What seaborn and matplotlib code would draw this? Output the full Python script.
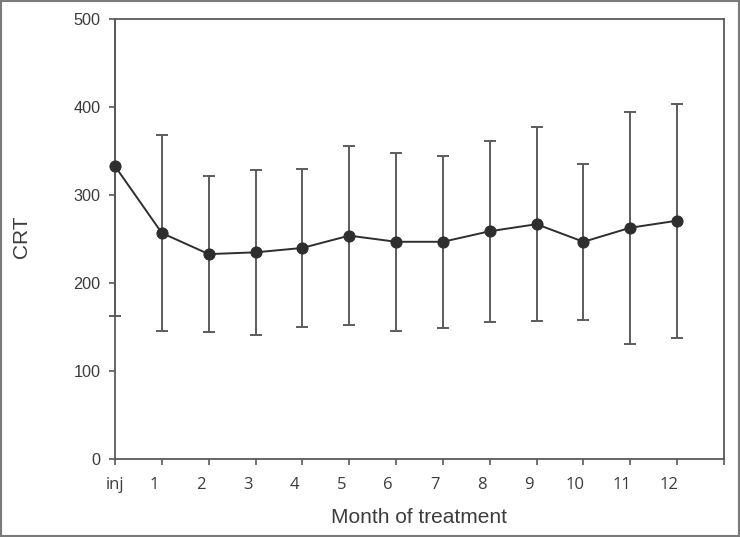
import matplotlib
matplotlib.use("Agg")
import matplotlib.pyplot as plt
import matplotlib.transforms as mtransforms
from matplotlib.patches import Rectangle
from matplotlib.ticker import FixedLocator, FixedFormatter, NullFormatter
import seaborn as sns
import pandas as pd
import numpy as np

# ---- data ----
month_labels = ["inj", "1", "2", "3", "4", "5", "6", "7", "8", "9", "10", "11", "12"]
month_index = [0, 1, 2, 3, 4, 5, 6, 7, 8, 9, 10, 11, 12]
crt_mean = [333, 257, 233, 235, 240, 254, 247, 247, 259, 267, 247, 263, 271]
crt_sd = [170, 111, 89, 94, 90, 102, 101, 98, 103, 110, 89, 132, 133]

df = pd.DataFrame({"month": month_index, "crt": crt_mean, "sd": crt_sd})

sns.set_style("ticks")
plt.rcParams["font.family"] = ["Liberation Sans", "DejaVu Sans"]

fig = plt.figure(figsize=(7.40, 5.37), dpi=100)
ax = fig.add_axes([0.1554, 0.1453, 0.8230, 0.8187])

line_col = "#2e2e2e"
err_col = "#5c5c5c"
spine_col = "#5a5a5a"
text_col = "#3c3c3c"

# error bars
eb = ax.errorbar(df["month"], df["crt"], yerr=df["sd"], fmt="none",
                 ecolor=err_col, elinewidth=1.4, capsize=4.6, capthick=1.4, zorder=2)
clip_bbox = mtransforms.TransformedBbox(mtransforms.Bbox([[-0.02, 0.0], [1.02, 1.0]]), ax.transAxes)
for art in eb.lines[1] + eb.lines[2]:
    art.set_clip_box(clip_bbox)

# line + markers
sns.lineplot(data=df, x="month", y="crt", ax=ax, color=line_col, linewidth=1.4,
             marker="o", markersize=8.0, markeredgecolor=line_col,
             markerfacecolor=line_col, zorder=3, clip_on=False)

ax.set_xlim(0, 13)
ax.set_ylim(0, 500)
ax.set_yticks([0, 100, 200, 300, 400, 500])

# major x ticks: marks only; minor x ticks: labels set slightly left of the marks
ax.xaxis.remove_overlapping_locs = False
ax.xaxis.set_major_locator(FixedLocator(list(range(14))))
ax.xaxis.set_major_formatter(NullFormatter())
label_pos = [m - (0.0 if m == 0 else 0.17) for m in month_index]
ax.xaxis.set_minor_locator(FixedLocator(label_pos))
ax.xaxis.set_minor_formatter(FixedFormatter(month_labels))
ax.tick_params(axis="x", which="minor", length=0, pad=13.0, labelsize=12, labelcolor=text_col)

ax.tick_params(axis="both", which="major", direction="out", length=4.5, width=1.2, color=spine_col)
ax.tick_params(axis="y", pad=6, labelsize=11.7, labelcolor=text_col)

for s in ax.spines.values():
    s.set_color(spine_col)
    s.set_linewidth(1.3)
    s.set_visible(True)

ax.set_xlabel("Month of treatment", fontsize=15, color=text_col)
ax.set_ylabel("CRT", fontsize=15, color=text_col)
ax.xaxis.set_label_coords(0.499, -0.132)
ax.xaxis.label.set_va("center")
ax.yaxis.set_label_coords(-0.1527, 0.505)
ax.yaxis.label.set_va("center")

fig.canvas.draw()
for t in ax.xaxis.get_minorticklabels():
    t.set_family(["Open Sans", "DejaVu Sans"])

fig.patches.append(Rectangle((0.001, 0.001), 0.998, 0.998, transform=fig.transFigure,
                             fill=False, edgecolor="#7a7a7a", linewidth=1.5))

fig.savefig("out.png", dpi=100)
